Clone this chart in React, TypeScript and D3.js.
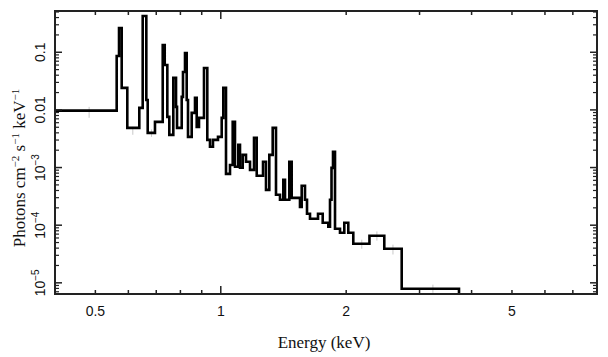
import React from "react";
import * as d3 from "d3";

// Bin edges (keV) and flux (photons cm^-2 s^-1 keV^-1)
const binEdges = [0.4, 0.5625, 0.5698, 0.5783, 0.5965, 0.6374, 0.6495, 0.6626, 0.6677, 0.6951, 0.7255, 0.7336, 0.7442, 0.7524, 0.7692, 0.7809, 0.7852, 0.8058, 0.8115, 0.8206, 0.8283, 0.8343, 0.8515, 0.8672, 0.8754, 0.8866, 0.9114, 0.9282, 0.9421, 0.9578, 0.9847, 1.0051, 1.014, 1.0293, 1.0523, 1.0681, 1.0817, 1.1017, 1.1121, 1.1288, 1.1496, 1.1754, 1.2017, 1.2198, 1.263, 1.2839, 1.3076, 1.3323, 1.3569, 1.3872, 1.4128, 1.4261, 1.4604, 1.4798, 1.5493, 1.5639, 1.5928, 1.6106, 1.6375, 1.7116, 1.7566, 1.8119, 1.8289, 1.8442, 1.8595, 1.8802, 1.9328, 1.9792, 2.0234, 2.0801, 2.2746, 2.4688, 2.7182, 3.731];
const flux = [0.0097, 0.0863, 0.264, 0.0241, 0.00488, 0.01084, 0.426, 0.0149, 0.004, 0.0062, 0.134, 0.0603, 0.00757, 0.00369, 0.0359, 0.0113, 0.00488, 0.0168, 0.0456, 0.0973, 0.0149, 0.00341, 0.00888, 0.0162, 0.00508, 0.00727, 0.0535, 0.00302, 0.00229, 0.00302, 0.00341, 0.00727, 0.0241, 0.000778, 0.00111, 0.0062, 0.00103, 0.00248, 0.00099, 0.00166, 0.00126, 0.00091, 0.00327, 0.00072, 0.00126, 0.00041, 0.00166, 0.00488, 0.000337, 0.000276, 0.000612, 0.000276, 0.00126, 0.000298, 0.000208, 0.000482, 0.000276, 0.000158, 0.000129, 0.000158, 0.00011, 0.0000939, 0.000276, 0.000989, 0.00187, 0.0000866, 0.0000739, 0.00011, 0.0000739, 0.0000476, 0.0000655, 0.000039, 0.0000079];

// faint data error bars: energy, low, high
const errEnergy = [0.483, 0.615, 0.682, 2.18, 2.37, 2.59, 3.23];
const errLow = [0.0073, 0.0037, 0.0034, 0.000039, 0.000054, 0.000031, 0.0000067];
const errHigh = [0.0113, 0.0051, 0.0046, 0.000056, 0.000078, 0.000046, 0.0000093];

const xDomain = [0.4, 8];
const yDomain = [6.4e-6, 0.52];
const xTickValues = [0.5, 0.6, 0.7, 0.8, 0.9, 1, 2, 3, 4, 5, 6, 7];
const xLabelTicks = [0.5, 1, 2, 5];
const yMajorTicks = [1e-5, 1e-4, 1e-3, 0.01, 0.1];
const yLabels: { v: number; base: string; exp?: string }[] = [
  { v: 0.1, base: "0.1" },
  { v: 0.01, base: "0.01" },
  { v: 1e-3, base: "10", exp: "−3" },
  { v: 1e-4, base: "10", exp: "−4" },
  { v: 1e-5, base: "10", exp: "−5" },
];

const W = 608, H = 357;
const L = 55, R = 597, T = 11, B = 294;

export default function App() {
  const x = d3.scaleLog().domain(xDomain).range([L, R]);
  const y = d3.scaleLog().domain(yDomain).range([B, T]);

  const pts: [number, number][] = [];
  flux.forEach((v, i) => {
    pts.push([x(binEdges[i]), y(v)]);
    pts.push([x(binEdges[i + 1]), y(v)]);
  });
  pts.push([x(binEdges[binEdges.length - 1]), B]);
  const path = d3.line()(pts) || "";

  const yMinor: number[] = [];
  for (let e = -6; e <= 0; e++) {
    for (let m = 2; m <= 9; m++) {
      const v = m * Math.pow(10, e);
      if (v > yDomain[0] && v < yDomain[1]) yMinor.push(v);
    }
  }

  const sans = "'Liberation Sans', Arial, Helvetica, sans-serif";
  const serif = "'Liberation Serif', 'Times New Roman', serif";
  const axisColor = "#222";

  return (
    <svg width={W} height={H} style={{ position: "absolute", left: 0, top: 0, background: "#fff" }}>
      <defs>
        <clipPath id="plotclip">
          <rect x={L} y={T} width={R - L} height={B - T} />
        </clipPath>
      </defs>
      {/* error bars */}
      {errEnergy.map((e, i) => (
        <line
          key={"eb" + i}
          x1={x(e)}
          x2={x(e)}
          y1={y(errLow[i])}
          y2={y(errHigh[i])}
          stroke="#c8c8c8"
          strokeWidth={1}
        />
      ))}
      {/* spectrum */}
      <path d={path} fill="none" stroke="#000" strokeWidth={2.6} strokeLinejoin="miter" clipPath="url(#plotclip)" />

      {/* x ticks */}
      {xTickValues.map((t) => {
        const len = t === 1 ? 8 : 4;
        return (
          <g key={"xt" + t}>
            <line x1={x(t)} x2={x(t)} y1={B} y2={B - len} stroke={axisColor} strokeWidth={1.5} />
            <line x1={x(t)} x2={x(t)} y1={T} y2={T + len} stroke={axisColor} strokeWidth={1.5} />
          </g>
        );
      })}
      {/* y ticks */}
      {yMajorTicks.map((t) => (
        <g key={"yM" + t}>
          <line x1={L} x2={L + 7} y1={y(t)} y2={y(t)} stroke={axisColor} strokeWidth={1.5} />
          <line x1={R} x2={R - 7} y1={y(t)} y2={y(t)} stroke={axisColor} strokeWidth={1.5} />
        </g>
      ))}
      {yMinor.map((t) => (
        <g key={"ym" + t}>
          <line x1={L} x2={L + 4} y1={y(t)} y2={y(t)} stroke={axisColor} strokeWidth={1.2} />
          <line x1={R} x2={R - 4} y1={y(t)} y2={y(t)} stroke={axisColor} strokeWidth={1.2} />
        </g>
      ))}

      {/* frame */}
      <rect x={L} y={T} width={R - L} height={B - T} fill="none" stroke={axisColor} strokeWidth={2} />

      {/* x labels */}
      {xLabelTicks.map((t) => (
        <text key={"xl" + t} x={x(t)} y={316} textAnchor="middle" fontFamily={sans} fontSize={14} fill="#111">
          {String(t)}
        </text>
      ))}
      {/* y labels */}
      {yLabels.map((d) => (
        <text
          key={"yl" + d.v}
          transform={`translate(45,${y(d.v)}) rotate(-90)`}
          textAnchor="middle"
          fontFamily={sans}
          fontSize={14}
          fill="#111"
        >
          {d.base}
          {d.exp ? (
            <tspan fontSize={10} dy={-6}>
              {d.exp}
            </tspan>
          ) : null}
        </text>
      ))}

      {/* axis titles */}
      <text x={324} y={348} textAnchor="middle" fontFamily={serif} fontSize={17} fill="#111">
        Energy (keV)
      </text>
      <text transform="translate(25,168) rotate(-90)" textAnchor="middle" fontFamily={serif} fontSize={17} fill="#111">
        Photons cm
        <tspan fontSize={11} dy={-6}>−2</tspan>
        <tspan dy={6}> s</tspan>
        <tspan fontSize={11} dy={-6}>−1</tspan>
        <tspan dy={6}> keV</tspan>
        <tspan fontSize={11} dy={-6}>−1</tspan>
      </text>
    </svg>
  );
}
